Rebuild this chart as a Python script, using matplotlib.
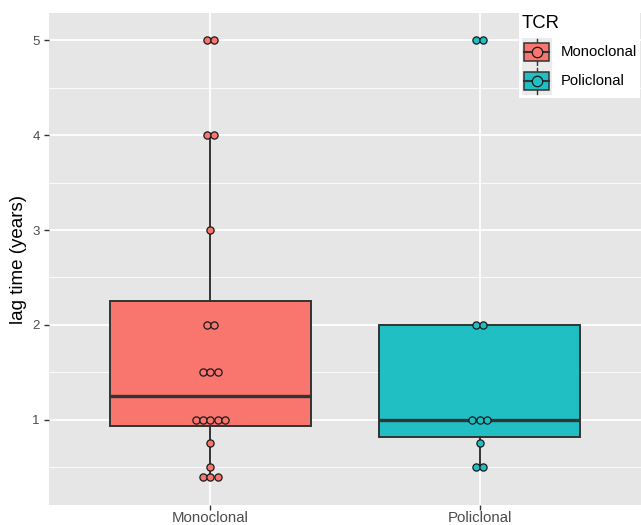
import numpy as np
import matplotlib
matplotlib.use("Agg")
import matplotlib.pyplot as plt
from matplotlib.patches import Rectangle
from matplotlib.lines import Line2D
from matplotlib.legend_handler import HandlerBase

plt.rcParams['font.family'] = ['Liberation Sans', 'DejaVu Sans']

categories = ["Monoclonal", "Policlonal"]
mono_values = [5, 5, 4, 4, 3, 2, 2, 1.5, 1.5, 1.5, 1, 1, 1, 1, 1, 0.75, 0.5, 0.4, 0.4, 0.4]
poli_values = [5, 5, 2, 2, 1, 1, 1, 0.75, 0.5, 0.5]
colors = ["#F8766D", "#1FBFC3"]
yticks = [1, 2, 3, 4, 5]
legend_title = "TCR"
ylabel = "lag time (years)"

W, H = 641, 525
fig = plt.figure(figsize=(W / 100, H / 100), dpi=100)
left, right, top, bottom = 49, 641, 13, 505
ax = fig.add_axes([left / W, (H - bottom) / H, (right - left) / W, (bottom - top) / H])
panel = "#E6E6E6"
edge = "#333333"
ax.set_facecolor(panel)
for s in ax.spines.values():
    s.set_visible(False)

xlim = (0.4, 2.6)
ylim = (0.1, 5.29)

data = [mono_values, poli_values]
positions = [1, 2]
bp = ax.boxplot(data, positions=positions, widths=0.75, patch_artist=True,
                showfliers=False, showcaps=False, whis=1.5,
                medianprops=dict(color=edge, lw=2.4),
                whiskerprops=dict(color=edge, lw=1.4),
                boxprops=dict(edgecolor=edge, lw=1.4), zorder=2)
for patch, c in zip(bp['boxes'], colors):
    patch.set_facecolor(c)

ax.set_xlim(*xlim)
ax.set_ylim(*ylim)
ax.set_yticks(yticks)
ax.set_yticks([0.5, 1.5, 2.5, 3.5, 4.5], minor=True)
ax.set_xticks(positions)
ax.set_xticklabels(categories)
ax.grid(True, which='major', color='white', lw=1.3, zorder=0)
ax.grid(True, which='minor', axis='y', color='white', lw=0.6, zorder=0)
ax.set_axisbelow(True)
ax.tick_params(axis='both', which='major', length=3.6, width=1, color='#333333',
               labelcolor='#4D4D4D', labelsize=9.5, pad=3)
ax.tick_params(axis='y', which='minor', length=0)
ax.tick_params(axis='x', labelsize=10.8, labelcolor='#4D4D4D', pad=0.5)
ax.set_ylabel(ylabel, fontsize=13.5, color='black', labelpad=4)

# dotplot (centered stacks)
axw_px = right - left
dot_px = 7.3
dx = dot_px * (xlim[1] - xlim[0]) / axw_px
for pos, vals, c in zip(positions, data, colors):
    vals = np.array(vals, dtype=float)
    for v in np.unique(vals):
        n = int(np.sum(vals == v))
        offs = (np.arange(n) - (n - 1) / 2) * dx
        ax.scatter(pos + offs, np.full(n, v), s=27, color=c, edgecolor='#1a1a1a',
                   linewidths=0.9, zorder=4)

# legend with box+dot keys
class BoxDotHandler(HandlerBase):
    def create_artists(self, legend, orig_handle, xdescent, ydescent, width, height, fontsize, trans):
        c = orig_handle.get_facecolor()
        x0, y0 = -xdescent, -ydescent
        bg = Rectangle((x0, y0), width, height, fc='#EBEBEB', ec='none', transform=trans)
        cx = x0 + width / 2
        vl = Line2D([cx, cx], [y0 + height * 0.04, y0 + height * 0.96], color=edge, lw=1, transform=trans)
        bx = Rectangle((x0 + width * 0.08, y0 + height * 0.2), width * 0.84, height * 0.6,
                       fc=c, ec=edge, lw=1.1, transform=trans)
        md = Line2D([x0 + width * 0.08, x0 + width * 0.92], [y0 + height / 2] * 2, color=edge, lw=1.5, transform=trans)
        pt = Line2D([cx], [y0 + height / 2], marker='o', ms=7.5, mfc=c, mec='#1a1a1a', mew=0.9,
                    ls='none', transform=trans)
        return [bg, vl, bx, md, pt]

handles = [Rectangle((0, 0), 1, 1, fc=c) for c in colors]
leg = ax.legend(handles, categories, title=legend_title, loc='upper left',
                bbox_to_anchor=(519 / W, 1.0 - 12 / H), bbox_transform=fig.transFigure,
                handler_map={Rectangle: BoxDotHandler()}, frameon=True, fancybox=False,
                edgecolor='none', facecolor='white', framealpha=1, fontsize=10.7,
                title_fontsize=13.3, handlelength=2.0, handleheight=2.62, handletextpad=0.6,
                labelspacing=0.0, borderpad=0.2, borderaxespad=0)
leg._legend_box.align = "left"
leg._legend_box.sep = 4
leg.set_zorder(10)

fig.savefig("out.png", dpi=100)
